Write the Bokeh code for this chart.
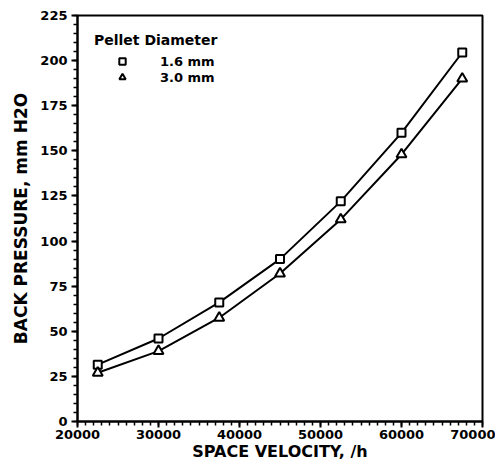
from bokeh.plotting import figure
from bokeh.models import Range1d, SingleIntervalTicker, Legend, LegendItem
from bokeh.embed import file_html
from bokeh.resources import INLINE

space_velocity = [22500, 30000, 37500, 45000, 52500, 60000, 67500]
bp_16mm = [31.5, 46, 66, 90, 122, 160, 204.5]
bp_30mm = [27, 39, 57.5, 82, 112, 148, 190]

FONT = "DejaVu Sans"

p = figure(width=495, height=463, output_backend="svg", toolbar_location=None,
           x_range=Range1d(20000, 70000), y_range=Range1d(0, 225),
           min_border_left=77, min_border_right=13, min_border_top=15, min_border_bottom=38)
p.xgrid.visible = False
p.ygrid.visible = False
p.outline_line_color = "black"
p.outline_line_width = 2

p.line(space_velocity, bp_16mm, line_color="black", line_width=2)
p.line(space_velocity, bp_30mm, line_color="black", line_width=2)
sq = p.scatter(space_velocity, bp_16mm, marker="square", size=8, fill_color="white",
               line_color="black", line_width=2)
tr = p.scatter(space_velocity, bp_30mm, marker="triangle", size=10, fill_color="white",
               line_color="black", line_width=2)

p.xaxis.ticker = SingleIntervalTicker(interval=10000, num_minor_ticks=10)
p.yaxis.ticker = SingleIntervalTicker(interval=25, num_minor_ticks=5)
for ax in (p.xaxis[0], p.yaxis[0]):
    ax.axis_line_width = 2
    ax.major_tick_line_width = 2
    ax.minor_tick_line_width = 1.5
    ax.major_tick_out = 6
    ax.major_tick_in = 0
    ax.minor_tick_out = 4
    ax.minor_tick_in = 0
    ax.major_label_text_font = FONT
    ax.major_label_text_font_style = "bold"
    ax.major_label_text_font_size = "13px"
    ax.major_label_text_color = "black"
    ax.axis_label_text_font = FONT
    ax.axis_label_text_font_style = "bold"
    ax.axis_label_text_font_size = "16px"
    ax.axis_label_text_color = "black"
p.xaxis.axis_label = "SPACE VELOCITY, /h"
p.yaxis.axis_label = "BACK PRESSURE, mm H2O"
p.yaxis.axis_label_text_font_size = "17px"
p.xaxis.axis_label_standoff = 0
p.xaxis.major_label_standoff = 2
p.yaxis.axis_label_standoff = 6
p.yaxis.major_label_standoff = 4

legend = Legend(items=[LegendItem(label="1.6 mm", renderers=[sq]),
                       LegendItem(label="3.0 mm", renderers=[tr])],
                location="top_left", title="Pellet Diameter")
legend.border_line_color = None
legend.background_fill_alpha = 0
legend.title_text_font = FONT
legend.title_text_font_style = "bold"
legend.title_text_font_size = "14px"
legend.title_text_color = "black"
legend.label_text_font = FONT
legend.label_text_font_style = "bold"
legend.label_text_font_size = "13px"
legend.label_text_color = "black"
legend.glyph_width = 56
legend.glyph_height = 16
legend.label_height = 16
legend.label_standoff = 10
legend.spacing = 0
legend.margin = 17
legend.padding = 5
p.add_layout(legend)

open("out.html", "w").write(file_html(p, INLINE))
